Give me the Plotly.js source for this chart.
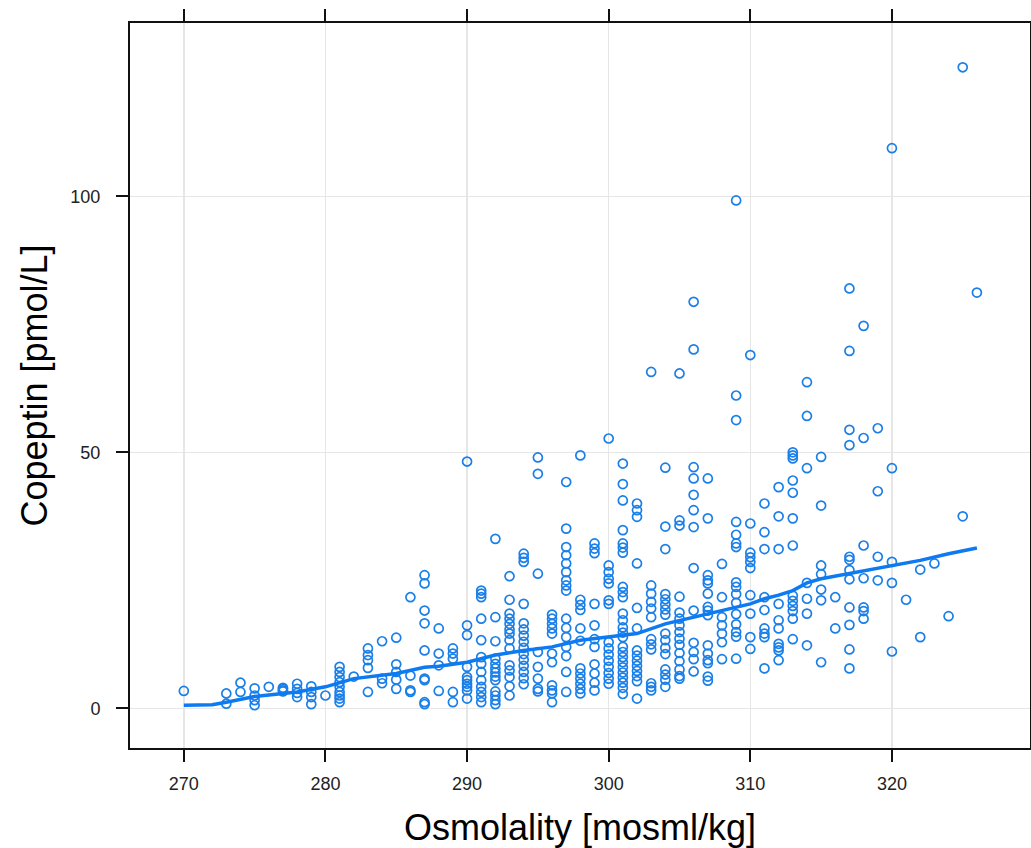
<!DOCTYPE html>
<html>
<head>
<meta charset="utf-8">
<script src="https://cdn.plot.ly/plotly-3.0.1.min.js"></script>
<style>html,body{margin:0;padding:0;background:#fff;}#chart{width:1031px;height:848px;}</style>
</head>
<body>
<div id="chart"></div>
<script>
// Osmolality (x) values, grouped by column, paired with copeptin (y) values below
const osmolality = [
  270,
  273,273,
  274,274,
  275,275,275,275,
  276,
  277,277,277,277,
  278,278,278,278,
  279,279,279,279,
  280,
  281,281,281,281,281,281,281,281,281,
  282,
  283,283,283,283,283,
  284,284,284,
  285,285,285,285,285,
  286,286,286,286,
  287,287,287,287,287,287,287,287,287,
  288,288,288,288,
  289,289,289,289,289,
  290,290,290,290,290,290,290,290,290,290,
  291,291,291,291,291,291,291,291,291,291,291,291,291,
  292,292,292,292,292,292,292,292,292,292,292,292,292,
  293,293,293,293,293,293,293,293,293,293,293,293,293,293,
  294,294,294,294,294,294,294,294,294,294,294,294,294,294,294,
  295,295,295,295,295,295,295,295,
  296,296,296,296,296,296,296,296,296,296,296,
  297,297,297,297,297,297,297,297,297,297,297,297,297,297,297,297,
  298,298,298,298,298,298,298,298,298,298,298,298,
  299,299,299,299,299,299,299,299,299,299,299,
  300,300,300,300,300,300,300,300,300,300,300,300,300,300,300,
  301,301,301,301,301,301,301,301,301,301,301,301,301,301,301,301,301,301,301,301,301,301,301,301,301,
  302,302,302,302,302,302,302,302,302,302,302,302,302,302,
  303,303,303,303,303,303,303,303,303,303,303,303,
  304,304,304,304,304,304,304,304,304,304,304,304,304,304,304,304,
  305,305,305,305,305,305,305,305,305,305,305,305,305,305,305,
  306,306,306,306,306,306,306,306,306,306,306,306,306,
  307,307,307,307,307,307,307,307,307,307,307,307,307,307,307,
  308,308,308,308,308,308,308,
  309,309,309,309,309,309,309,309,309,309,309,309,309,309,309,309,
  310,310,310,310,310,310,310,310,310,310,
  311,311,311,311,311,311,311,311,311,
  312,312,312,312,312,312,312,312,312,312,
  313,313,313,313,313,313,313,313,313,313,313,313,313,
  314,314,314,314,314,314,314,
  315,315,315,315,315,315,315,
  316,316,
  317,317,317,317,317,317,317,317,317,317,317,317,
  318,318,318,318,318,318,318,
  319,319,319,319,
  320,320,320,320,320,
  321,
  322,322,
  323,
  324,
  325,325,
  326
];
const copeptin = [
  3.4,
  2.9,0.9,
  5.0,3.2,
  3.9,2.5,1.6,0.6,
  4.2,
  3.5,3.8,4.0,3.3,
  4.8,3.8,3.0,2.2,
  4.3,3.2,2.2,0.8,
  2.5,
  8.1,7.1,6.1,5.1,4.2,3.2,2.5,1.9,1.2,
  6.2,
  11.7,10.4,9.4,7.9,3.2,
  13.1,5.8,4.9,
  13.8,8.6,7.1,5.6,3.8,
  21.7,6.4,3.5,3.2,
  26.0,24.4,19.1,16.6,11.3,5.8,5.5,1.2,0.8,
  15.6,10.7,8.4,3.4,
  11.7,10.7,9.7,3.2,1.2,
  48.2,16.2,14.3,8.1,6.1,5.5,4.8,4.2,3.5,1.9,
  23.0,22.4,21.7,17.5,13.3,10.0,8.7,7.1,5.5,4.2,3.2,2.2,1.2,
  33.1,17.8,13.1,9.7,8.7,7.8,7.0,6.2,5.5,3.3,2.5,1.6,0.8,
  25.8,21.2,18.5,17.5,16.5,15.4,14.6,13.3,11.7,8.4,7.4,6.1,4.3,2.5,
  30.2,29.4,28.6,20.4,16.6,15.4,14.2,13.0,11.8,10.6,9.5,8.3,7.1,5.9,4.7,
  49.0,45.8,26.3,11.0,8.1,5.8,3.8,3.3,
  18.3,17.5,16.5,15.6,14.6,10.7,9.0,4.5,3.5,2.9,1.2,
  44.2,35.1,31.5,29.9,28.3,26.6,25.0,24.0,23.0,17.5,15.7,13.9,12.0,10.2,7.1,3.2,
  49.4,21.2,20.2,19.2,15.6,13.2,7.8,6.8,5.8,4.8,3.8,2.9,
  32.2,31.2,30.3,20.4,16.2,13.5,12.0,8.6,6.8,5.0,3.5,
  52.7,27.9,26.6,25.3,24.4,21.1,20.4,12.9,11.7,10.5,9.3,8.1,6.9,5.8,4.8,
  47.8,43.8,40.6,34.8,32.2,31.4,30.4,23.7,22.7,21.7,18.5,17.2,15.8,14.8,13.9,12.0,11.0,10.0,9.0,8.0,7.0,6.0,5.0,4.0,2.8,
  40.0,38.7,37.4,28.3,19.6,15.6,11.3,10.3,9.3,8.3,7.3,6.3,5.3,1.9,
  65.7,24.0,22.4,20.8,19.5,17.8,13.5,12.5,11.5,4.9,4.2,3.5,
  47.0,35.5,31.1,22.3,21.3,20.3,19.3,18.3,14.6,13.3,11.8,10.6,7.6,6.6,5.6,4.2,
  65.4,36.7,35.7,21.8,18.7,17.5,16.2,14.9,13.6,12.4,10.8,9.2,7.6,6.3,5.8,
  79.4,70.1,47.1,44.9,41.7,38.7,35.4,27.4,19.1,12.8,11.0,9.6,7.2,
  44.9,37.1,26.0,25.0,24.4,22.4,19.8,19.1,18.2,12.3,10.7,9.4,8.8,6.2,5.4,
  28.2,21.7,17.8,16.2,14.6,12.9,9.6,
  99.2,61.1,56.3,36.4,33.9,32.2,31.5,24.6,23.7,22.3,20.6,18.4,16.4,14.9,14.0,9.7,
  69.0,36.1,30.4,29.5,28.6,27.4,22.1,18.5,13.9,11.6,
  40.0,34.4,31.1,21.7,19.2,15.6,14.6,13.9,7.8,
  43.2,37.5,31.1,20.4,17.2,15.6,12.6,11.9,11.3,9.4,
  50.0,49.4,48.8,44.5,42.1,37.1,31.8,22.0,21.0,20.0,19.0,17.5,13.5,
  63.7,57.1,46.9,24.5,21.4,18.5,12.3,
  49.1,39.6,27.9,26.2,23.2,21.1,9.0,
  21.7,15.6,
  82.0,69.8,54.4,51.4,29.6,29.0,27.0,25.2,19.7,16.3,11.5,7.8,
  74.7,52.8,31.8,25.4,19.7,19.0,17.5,
  54.7,42.4,29.6,25.0,
  109.4,46.9,28.6,24.5,11.1,
  21.2,
  27.1,13.9,
  28.3,
  18.0,
  125.2,37.5,
  81.2
];
// Smoothed (loess) curve
const smoothX = [270,271,272,273,275,278,280,282,285,287,288,290,292,294,296,298,300,302,304,306,308,310,311,312,313,314,315,317,319,320,322,324,326];
const smoothY = [0.6,0.6,0.7,1.2,2.3,3.2,4.2,5.8,6.8,8.0,8.2,9.0,10.4,11.3,12.0,13.3,13.9,14.6,16.5,17.8,19.1,20.4,21.4,22.1,23.0,24.5,25.3,26.3,27.3,27.9,28.9,30.2,31.3];

const xTicks = [270,280,290,300,310,320];
const yTicks = [0,50,100];

const blue = '#1a7fe8';

const traces = [
  {
    type: 'scatter', mode: 'markers',
    x: osmolality, y: copeptin,
    marker: {symbol: 'circle-open', size: 9, color: blue, line: {width: 1.7, color: blue}},
    hoverinfo: 'x+y', showlegend: false
  },
  {
    type: 'scatter', mode: 'lines',
    x: smoothX, y: smoothY,
    line: {color: '#0d7af2', width: 3.5},
    hoverinfo: 'skip', showlegend: false
  }
];

const fontFam = '"Liberation Sans", Arial, Helvetica, sans-serif';

const layout = {
  width: 1031, height: 848,
  margin: {l: 130, r: 1, t: 23, b: 100, pad: 0},
  paper_bgcolor: '#fff', plot_bgcolor: '#fff',
  font: {family: fontFam, color: '#000'},
  xaxis: {
    range: [266.2, 329.75],
    tickvals: xTicks, ticktext: xTicks.map(String),
    ticks: 'outside', ticklen: 12, tickwidth: 2, tickcolor: '#111',
    showline: true, linecolor: '#111', linewidth: 2, mirror: 'ticks',
    showgrid: true, gridcolor: '#e6e6e6', gridwidth: 1.5,
    zeroline: false,
    tickfont: {family: fontFam, size: 18, color: '#222'},
    ticklabelstandoff: 6,
    title: {text: 'Osmolality [mosml/kg]', font: {family: fontFam, size: 36, color: '#000'}, standoff: 22}
  },
  yaxis: {
    range: [-7.75, 133.85],
    tickvals: yTicks, ticktext: yTicks.map(String),
    ticks: 'outside', ticklen: 12, tickwidth: 2, tickcolor: '#111',
    showline: true, linecolor: '#111', linewidth: 2, mirror: 'ticks',
    showgrid: true, gridcolor: '#e6e6e6', gridwidth: 1.5,
    zeroline: false,
    tickfont: {family: fontFam, size: 18, color: '#222'},
    ticklabelstandoff: 12,
    title: {text: 'Copeptin [pmol/L]', font: {family: fontFam, size: 36, color: '#000'}, standoff: 12}
  }
};

Plotly.newPlot('chart', traces, layout, {displayModeBar: false, staticPlot: true});
</script>
</body>
</html>
